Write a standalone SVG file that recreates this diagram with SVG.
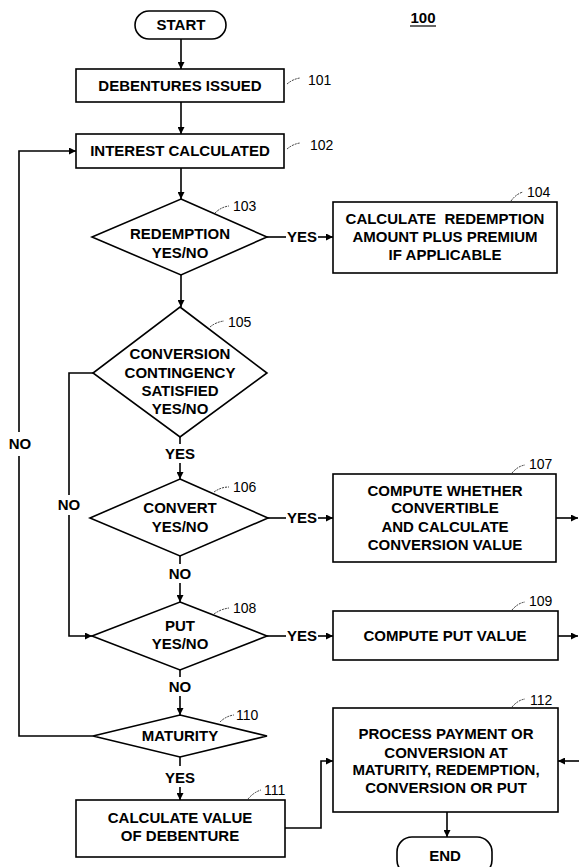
<svg xmlns="http://www.w3.org/2000/svg" width="579" height="867" viewBox="0 0 579 867">
<defs>
<marker id="ah" viewBox="0 0 10 10" refX="10" refY="5" markerWidth="7" markerHeight="7" markerUnits="userSpaceOnUse" orient="auto">
<path d="M0,0 L10,5 L0,10 z" fill="#000"/>
</marker>
<style>
.shape{fill:#fff;stroke:#000;stroke-width:1.6}
.t{font-family:"Liberation Sans",Arial,sans-serif;font-weight:bold;font-size:15px;text-anchor:middle;fill:#000}
.n{font-family:"Liberation Sans",Arial,sans-serif;font-size:14px;fill:#000}
.ld{fill:none;stroke:#000;stroke-width:0.8;stroke-dasharray:2 1}
.c{fill:none;stroke:#000;stroke-width:1.6}
.ca{fill:none;stroke:#000;stroke-width:1.6;marker-end:url(#ah)}
</style>
</defs>
<rect width="579" height="867" fill="#fff"/>

<text class="t" x="423" y="23">100</text>
<line x1="410" y1="26" x2="436" y2="26" stroke="#000" stroke-width="1.2"/>

<g id="connectors">
<line class="ca" x1="181" y1="39" x2="181" y2="69"/>
<line class="ca" x1="181" y1="102" x2="181" y2="134"/>
<line class="ca" x1="181" y1="168" x2="181" y2="199"/>
<line class="c" x1="267" y1="237" x2="286" y2="237"/>
<text class="t" x="302" y="242">YES</text>
<line class="ca" x1="318" y1="237" x2="333" y2="237"/>
<line class="ca" x1="181" y1="275" x2="181" y2="307"/>
<line class="c" x1="180" y1="437" x2="180" y2="444"/>
<text class="t" x="180" y="459">YES</text>
<line class="ca" x1="180" y1="463" x2="180" y2="479"/>
<polyline class="c" points="93,373 69,373 69,495"/>
<text class="t" x="69" y="510">NO</text>
<polyline class="ca" points="69,515 69,636 92,636"/>
<line class="c" x1="268" y1="518" x2="286" y2="518"/>
<text class="t" x="302" y="523">YES</text>
<line class="ca" x1="318" y1="518" x2="333" y2="518"/>
<line class="ca" x1="556" y1="518" x2="578" y2="518"/>
<line class="c" x1="180" y1="556" x2="180" y2="564"/>
<text class="t" x="180" y="579">NO</text>
<line class="ca" x1="180" y1="583" x2="180" y2="602"/>
<line class="c" x1="267" y1="636" x2="286" y2="636"/>
<text class="t" x="302" y="641">YES</text>
<line class="ca" x1="318" y1="636" x2="333" y2="636"/>
<line class="ca" x1="558" y1="636" x2="578" y2="636"/>
<line class="c" x1="180" y1="670" x2="180" y2="677"/>
<text class="t" x="180" y="692">NO</text>
<line class="ca" x1="180" y1="696" x2="180" y2="715"/>
<polyline class="c" points="93,736 19,736 19,456"/>
<text class="t" x="20" y="449">NO</text>
<polyline class="ca" points="19,432 19,151 76,151"/>
<line class="c" x1="180" y1="757" x2="180" y2="766"/>
<text class="t" x="180" y="783">YES</text>
<line class="ca" x1="180" y1="787" x2="180" y2="800"/>
<polyline class="ca" points="285,828 321,828 321,761 333,761"/>
<line class="ca" x1="579" y1="761" x2="558" y2="761"/>
<line class="ca" x1="447" y1="812" x2="447" y2="837"/>
</g>

<g id="start">
<rect class="shape" x="135" y="11" width="91" height="28" rx="14"/>
<text class="t" x="181" y="30">START</text>
</g>

<g id="n101">
<rect class="shape" x="76" y="69" width="208" height="33"/>
<text class="t" x="180" y="91">DEBENTURES ISSUED</text>
<path class="ld" d="M287,84 Q293,79 300,78"/>
<text class="n" x="308" y="85">101</text>
</g>

<g id="n102">
<rect class="shape" x="76" y="134" width="208" height="34"/>
<text class="t" x="180" y="156">INTEREST CALCULATED</text>
<path class="ld" d="M287,149 Q293,144 300,143"/>
<text class="n" x="310" y="150">102</text>
</g>

<g id="n103">
<polygon class="shape" points="181,199 267,237 181,275 92,237"/>
<text class="t" x="180" y="239">REDEMPTION</text>
<text class="t" x="180" y="258">YES/NO</text>
<path class="ld" d="M215,213 Q221,207 229,206"/>
<text class="n" x="233" y="211">103</text>
</g>

<g id="n104">
<rect class="shape" x="333" y="202" width="224" height="71"/>
<text class="t" x="445" y="224" xml:space="preserve">CALCULATE  REDEMPTION</text>
<text class="t" x="445" y="242">AMOUNT PLUS PREMIUM</text>
<text class="t" x="445" y="260">IF APPLICABLE</text>
<path class="ld" d="M511,201 Q516,194 523,192"/>
<text class="n" x="527" y="197">104</text>
</g>

<g id="n105">
<polygon class="shape" points="180,307 267,373 180,437 93,373"/>
<text class="t" x="180" y="359">CONVERSION</text>
<text class="t" x="180" y="378">CONTINGENCY</text>
<text class="t" x="180" y="396">SATISFIED</text>
<text class="t" x="180" y="414">YES/NO</text>
<path class="ld" d="M210,327 Q216,322 224,321"/>
<text class="n" x="228" y="327">105</text>
</g>

<g id="n106">
<polygon class="shape" points="180,479 268,518 180,556 90,518"/>
<text class="t" x="180" y="513">CONVERT</text>
<text class="t" x="180" y="532">YES/NO</text>
<path class="ld" d="M214,492 Q221,487 229,487"/>
<text class="n" x="233" y="492">106</text>
</g>

<g id="n107">
<rect class="shape" x="333" y="474" width="223" height="88"/>
<text class="t" x="445" y="496">COMPUTE WHETHER</text>
<text class="t" x="445" y="513">CONVERTIBLE</text>
<text class="t" x="445" y="532">AND CALCULATE</text>
<text class="t" x="445" y="550">CONVERSION VALUE</text>
<path class="ld" d="M512,473 Q518,466 525,465"/>
<text class="n" x="529" y="469">107</text>
</g>

<g id="n108">
<polygon class="shape" points="180,602 267,636 180,670 92,636"/>
<text class="t" x="180" y="631">PUT</text>
<text class="t" x="180" y="649">YES/NO</text>
<path class="ld" d="M214,614 Q221,609 229,608"/>
<text class="n" x="233" y="613">108</text>
</g>

<g id="n109">
<rect class="shape" x="333" y="611" width="225" height="49"/>
<text class="t" x="445" y="641">COMPUTE PUT VALUE</text>
<path class="ld" d="M512,610 Q518,603 525,602"/>
<text class="n" x="529" y="606">109</text>
</g>

<g id="n110">
<polygon class="shape" points="180,715 267,736 180,757 93,736"/>
<text class="t" x="180" y="741">MATURITY</text>
<path class="ld" d="M220,722 Q226,716 234,715"/>
<text class="n" x="236" y="720">110</text>
</g>

<g id="n111">
<rect class="shape" x="76" y="800" width="209" height="57"/>
<text class="t" x="180" y="823">CALCULATE VALUE</text>
<text class="t" x="180" y="841">OF DEBENTURE</text>
<path class="ld" d="M248,799 Q254,792 261,790"/>
<text class="n" x="264" y="795">111</text>
</g>

<g id="n112">
<rect class="shape" x="333" y="708" width="225" height="104"/>
<text class="t" x="446" y="739">PROCESS PAYMENT OR</text>
<text class="t" x="446" y="758">CONVERSION AT</text>
<text class="t" x="446" y="775">MATURITY, REDEMPTION,</text>
<text class="t" x="446" y="793">CONVERSION OR PUT</text>
<path class="ld" d="M512,707 Q518,700 525,699"/>
<text class="n" x="530" y="705">112</text>
</g>

<g id="end">
<rect class="shape" x="397" y="837" width="95" height="38" rx="15"/>
<text class="t" x="445" y="861">END</text>
</g>
</svg>
